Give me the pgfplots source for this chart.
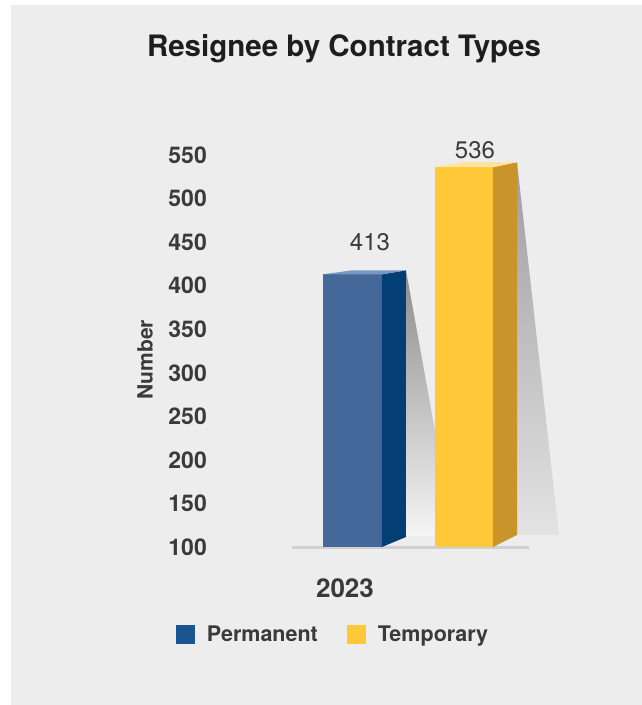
\documentclass[border=0pt]{standalone}
\usepackage{fontspec}
\setmainfont{TeX Gyre Heros}
\usepackage{pgfplots}
\pgfplotsset{compat=1.18}

\definecolor{panel}{HTML}{EDEDED}
\definecolor{txt}{HTML}{3A3A3A}
\definecolor{titletxt}{HTML}{1E1E1E}
\definecolor{bluefront}{HTML}{44689A}
\definecolor{blueside}{HTML}{033F74}
\definecolor{bluetop}{HTML}{7A97C2}
\definecolor{yelfront}{HTML}{FFC838}
\definecolor{yelside}{HTML}{C9952B}
\definecolor{yeltop}{HTML}{FFE49E}
\definecolor{legblue}{HTML}{1A5590}
\definecolor{baseln}{HTML}{D0D0D4}

\begin{document}
\begin{tikzpicture}
% background panel (1pt = 1px of the reference)
\fill[white] (-212pt,-158pt) rectangle (430pt,547pt);
\fill[panel] (-201pt,-158pt) rectangle (430pt,542pt);
\node[font=\bfseries\fontsize{29.5}{31}\selectfont, text=titletxt] at (132pt,498pt) {Resignee by Contract Types};

\begin{axis}[
  at={(0pt,0pt)}, anchor=south west,
  scale only axis, width=388pt, height=392pt,
  xmin=212, xmax=600, ymin=100, ymax=550,
  clip=false,
  axis line style={draw=none},
  major tick length=0pt,
  ytick={100,150,...,550},
  xtick={345}, xticklabels={2023},
  /pgf/number format/assume math mode=true,
  yticklabel style={font=\bfseries\fontsize{23}{23}\selectfont, text=txt, inner xsep=0pt, xshift=-5pt},
  xticklabel style={font=\bfseries\fontsize{26}{26}\selectfont, text=txt, anchor=center, yshift=-41pt},
  ylabel={Number},
  ylabel style={font=\bfseries\fontsize{21}{21}\selectfont, text=txt, at={(axis description cs:-0.1727,0.478)}, anchor=center},
  legend columns=2,
  legend style={draw=none, fill=none, at={(axis description cs:0.325,-0.222)}, anchor=center,
    font=\bfseries\fontsize{21.5}{21.5}\selectfont, text=txt,
    nodes={text depth=0pt, inner xsep=12pt},
    /tikz/every even column/.append style={column sep=17pt}},
  legend image code/.code={%
    \fill[#1, draw=none] (0pt,-9.5pt) rectangle (19pt,9.5pt);},
]
% baseline
\addplot[draw=baseln, line width=3pt, forget plot] coordinates {(292,100) (529,100)};

% shadows
\addplot[draw=none, top color=black!45, bottom color=white!96!black, forget plot]
  coordinates {(406,417.6) (454,112.6) (406,112.6)} --cycle;
\addplot[draw=none, top color=black!38, bottom color=black!11, forget plot]
  coordinates {(517,541.7) (559,113.8) (517,113.8)} --cycle;

% Permanent: 413
\addplot[fill=bluefront, draw=none, forget plot] coordinates {(323,100) (323,413) (382,413) (382,100)} --cycle;
\addplot[fill=blueside, draw=none, forget plot] coordinates {(382,100) (406,111.5) (406,417.6) (382,413)} --cycle;
\addplot[fill=bluetop, draw=none, forget plot] coordinates {(323,413) (382,413) (406,417.6) (352,417.6)} --cycle;

% Temporary: 536
\addplot[fill=yelfront, draw=none, forget plot] coordinates {(435,100) (435,536) (493,536) (493,100)} --cycle;
\addplot[fill=yelside, draw=none, forget plot] coordinates {(493,100) (517,113.8) (517,541.7) (493,536)} --cycle;
\addplot[fill=yeltop, draw=none, forget plot] coordinates {(435,536) (493,536) (517,541.7) (462,541.7)} --cycle;

\node[font=\fontsize{24}{24}\selectfont, text=txt] at (axis cs:370,450) {413};
\node[font=\fontsize{24}{24}\selectfont, text=txt] at (axis cs:475,555.8) {536};

\addlegendimage{fill=legblue}
\addlegendentry{Permanent}
\addlegendimage{fill=yelfront}
\addlegendentry{Temporary}
\end{axis}
\pgfresetboundingbox
\useasboundingbox (-212pt,-158pt) rectangle (430pt,547pt);
\end{tikzpicture}
\end{document}
